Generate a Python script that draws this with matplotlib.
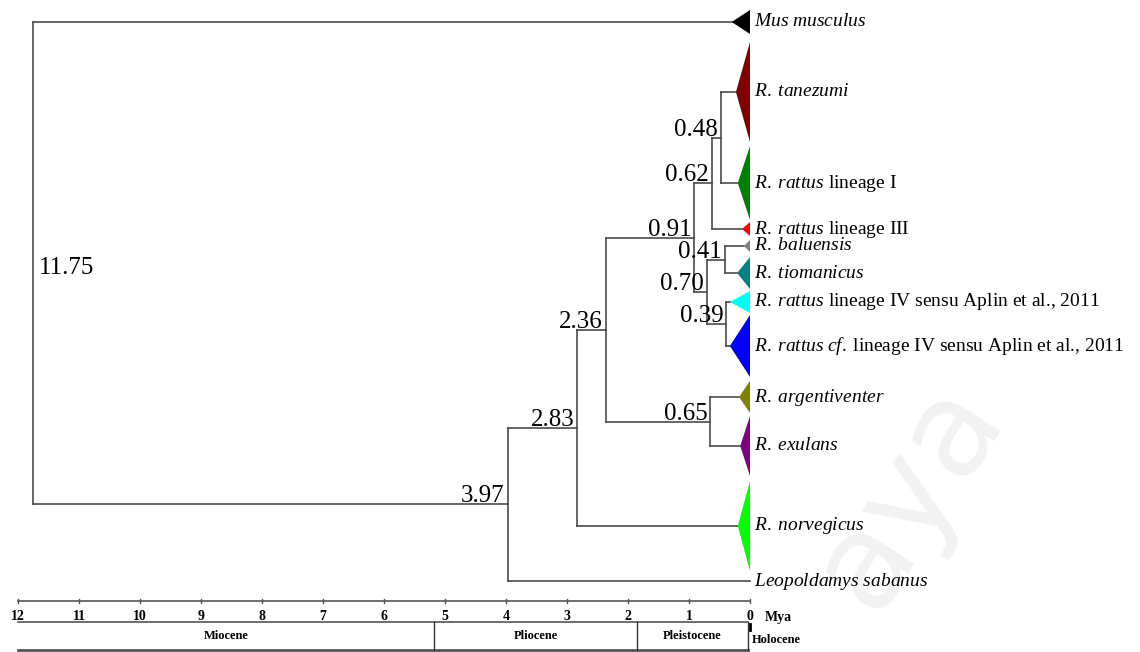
import numpy as np
import matplotlib
matplotlib.use("Agg")
import matplotlib.pyplot as plt

plt.rcParams['font.family'] = ['Liberation Serif', 'DejaVu Serif']
plt.rcParams['mathtext.fontset'] = 'custom'
plt.rcParams['mathtext.rm'] = 'Liberation Serif'
plt.rcParams['mathtext.it'] = 'Liberation Serif:italic'

# hojas (clados colapsados), posicion vertical en pixeles de la figura
leaf_labels = [r"$\mathit{Mus\ musculus}$",
               r"$\mathit{R.\;tanezumi}$",
               r"$\mathit{R.\;rattus}$ lineage I",
               r"$\mathit{R.\;rattus}$ lineage III",
               r"$\mathit{R.\;baluensis}$",
               r"$\mathit{R.\;tiomanicus}$",
               r"$\mathit{R.\;rattus}$ lineage IV sensu Aplin et al., 2011",
               r"$\mathit{R.\;rattus\;cf.}\;$lineage IV sensu Aplin et al., 2011",
               r"$\mathit{R.\;argentiventer}$",
               r"$\mathit{R.\;exulans}$",
               r"$\mathit{R.\;norvegicus}$",
               r"$\mathit{Leopoldamys\ sabanus}$"]
leaf_y = [22, 92, 183, 229, 246, 273, 302, 346, 397, 446, 526, 581]
leaf_half = [12, 50, 37, 7, 6, 16, 11, 31, 16, 30, 45, 0]
leaf_tip = [0.30, 0.23, 0.20, 0.13, 0.10, 0.21, 0.33, 0.33, 0.18, 0.16, 0.20, 0.0]
leaf_colors = ["#000000", "#800000", "#008000", "#ff0000", "#808080", "#008080",
               "#00ffff", "#0000ff", "#808000", "#800080", "#00ff00", None]

# nodos internos: edad (Mya) e hijos ("L" hoja, "N" nodo)
node_ages = [0.48, 0.62, 0.41, 0.39, 0.70, 0.91, 0.65, 2.36, 2.83, 3.97, 11.75]
node_kids = [("L1", "L2"), ("N0", "L3"), ("L4", "L5"), ("L6", "L7"), ("N2", "N3"),
             ("N1", "N4"), ("L8", "L9"), ("N5", "N6"), ("N7", "L10"), ("N8", "L11"),
             ("L0", "N9")]

scale_ticks = list(range(12, -1, -1))
epoch_names = ["Miocene", "Pliocene", "Pleistocene"]
epoch_start = [12.0, 5.18, 1.85]
epoch_end = [5.18, 1.85, 0.03]

px = 61.0   # pixeles por Mya
x0 = 750.0  # pixel de 0 Mya

fig = plt.figure(figsize=(11.4, 6.52), dpi=100)
ax = fig.add_axes([0, 0, 1, 1])
ax.set_xlim(x0 / px, (x0 - 1140) / px)
ax.set_ylim(652, 0)
ax.axis("off")

# marca de agua
ax.text(-2.6, 495, "aya", fontsize=95, color="#f2f2f2", rotation=57,
        family="DejaVu Sans", ha="center", va="center", zorder=0)

lc = "#4a4a4a"

def pos(k):
    if k[0] == "L":
        i = int(k[1:])
        return leaf_tip[i], leaf_y[i]
    i = int(k[1:])
    return node_ages[i], node_y[i]

node_y = [0.0] * len(node_ages)
for i, kids in enumerate(node_kids):
    ys = [pos(k)[1] for k in kids]
    node_y[i] = np.mean(ys)
    a = node_ages[i]
    ax.plot([a, a], [min(ys), max(ys)], color=lc, lw=1.2, zorder=2)
    for k in kids:
        cx, cy = pos(k)
        ax.plot([a, cx], [cy, cy], color=lc, lw=1.2, zorder=2)
    if i == len(node_ages) - 1:
        ax.text(a - 0.1, node_y[i] + 5, f"{a:.2f}", fontsize=18, ha="left", va="center")
    else:
        ax.text(a + 0.05, node_y[i] + 3, f"{a:.2f}", fontsize=18, ha="right", va="bottom")

for i, name in enumerate(leaf_labels):
    if leaf_colors[i] is not None:
        ax.fill([leaf_tip[i], 0, 0], [leaf_y[i], leaf_y[i] - leaf_half[i], leaf_y[i] + leaf_half[i]],
                color=leaf_colors[i], lw=0, zorder=3)
    ax.text(-0.07, leaf_y[i], name, fontsize=14, ha="left", va="center")

# escala de tiempo
sy = 601
ax.plot([12, 0], [sy, sy], color="#555555", lw=1.2)
for t in scale_ticks:
    ax.plot([t, t], [sy - 2, sy + 2], color="#555555", lw=1)
    ax.text(t, 617, str(t), fontsize=10, fontweight="bold", ha="center", va="center")
ax.text(-0.25, 617, "Mya", fontsize=10, fontweight="bold", ha="left", va="center")

by0, by1 = 622, 650
ax.plot([12, epoch_end[-1]], [by0, by0], color="#555555", lw=1.2)
ax.plot([12, epoch_end[-1]], [by1, by1], color="#555555", lw=2)
for s, e, n in zip(epoch_start, epoch_end, epoch_names):
    ax.plot([e, e], [by0, by1], color="#333333", lw=1)
    ax.text((s + e) / 2, 636, n, fontsize=9, fontweight="bold", ha="center", va="center")
ax.plot([0.0, 0.0], [by0 + 2, by0 + 8], color="#000000", lw=2)
ax.text(-0.03, 640, "Holocene", fontsize=9, fontweight="bold", ha="left", va="center")

fig.savefig("out.png", dpi=100)
